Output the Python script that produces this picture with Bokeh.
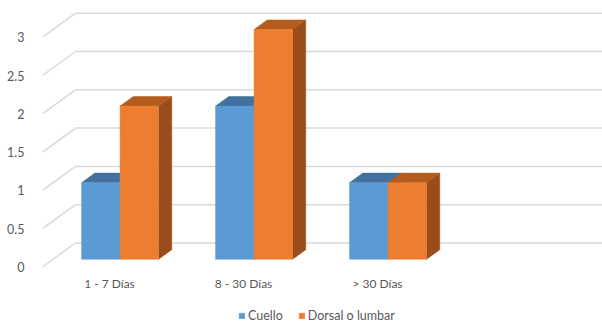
from bokeh.plotting import figure
from bokeh.models import Range1d, FixedTicker, Legend, LegendItem
from bokeh.core.properties import value
from bokeh.embed import file_html
from bokeh.resources import INLINE

# ---- data ----
categories = ["1 - 7 Días", "8 - 30 Días", "> 30 Días"]
cuello = [1, 2, 1]
dorsal = [2, 3, 1]
series_names = ["Cuello", "Dorsal o lumbar"]
y_ticks = [0, 0.5, 1, 1.5, 2, 2.5, 3]
y_tick_labels = ["0", "0.5", "1", "1.5", "2", "2.5", "3"]

# ---- layout / style constants ----
W, H = 602, 323
LEFT = 42
PX_X = 134.0      # px per category
PX_Y = 76.6       # px per value unit
ZERO_PX = 266.5   # screen y of front zero
DEPTH_DX = 33.0 / PX_X   # full depth offset (category units)
DEPTH_DY = 24.0 / PX_Y   # full depth offset (value units)
F0, F1 = 0.32, 0.72      # bar front/back depth fractions
BAR_W = 38.5 / PX_X

BLUE = ["#5B9BD5", "#41719C", "#3A6690"]
ORANGE = ["#ED7D31", "#B35C1E", "#9A4D1B"]
GRID = "#D9D9D9"
TXT = "#595959"
FONT = "Lato"

p = figure(width=W, height=H, output_backend="svg", toolbar_location=None,
           x_axis_type=None,
           x_range=Range1d(0, (W - LEFT) / PX_X),
           y_range=Range1d(-(H - ZERO_PX) / PX_Y, ZERO_PX / PX_Y),
           min_border_left=LEFT, min_border_right=0, min_border_top=0,
           min_border_bottom=0)
p.outline_line_color = None
p.xgrid.visible = False
p.ygrid.visible = False

# walls: left-wall diagonals and back-wall horizontal lines
x_end = (W - LEFT) / PX_X
p.segment(x0=[0] * len(y_ticks), y0=y_ticks,
          x1=[DEPTH_DX] * len(y_ticks), y1=[t + DEPTH_DY for t in y_ticks],
          line_color=GRID, line_width=1.5)
p.segment(x0=[DEPTH_DX] * len(y_ticks), y0=[t + DEPTH_DY for t in y_ticks],
          x1=[x_end] * len(y_ticks), y1=[t + DEPTH_DY for t in y_ticks],
          line_color=GRID, line_width=1.5)

# bars
ox0, oy0 = F0 * DEPTH_DX, F0 * DEPTH_DY
ox1, oy1 = F1 * DEPTH_DX, F1 * DEPTH_DY
front_renderers = []
for s_idx, (vals, cols) in enumerate([(cuello, BLUE), (dorsal, ORANGE)]):
    lefts, rights, tops, bottoms = [], [], [], []
    top_xs, top_ys, side_xs, side_ys = [], [], [], []
    for i, v in enumerate(vals):
        c = i + 0.5
        l = c - BAR_W + s_idx * BAR_W + ox0
        r = l + BAR_W
        b = oy0
        t = v + oy0
        lefts.append(l); rights.append(r); tops.append(t); bottoms.append(b)
        dx, dy = ox1 - ox0, oy1 - oy0
        top_xs.append([l, r, r + dx, l + dx])
        top_ys.append([t, t, t + dy, t + dy])
        side_xs.append([r, r + dx, r + dx, r])
        side_ys.append([b, b + dy, t + dy, t])
    p.patches(side_xs, side_ys, fill_color=cols[2], line_color=cols[2], line_width=0.5)
    p.patches(top_xs, top_ys, fill_color=cols[1], line_color=cols[1], line_width=0.5)
    fr = p.quad(left=lefts, right=rights, top=tops, bottom=bottoms,
                fill_color=cols[0], line_color=cols[0], line_width=0.5)
    front_renderers.append(fr)

# category labels
p.text(x=[i + 0.5 for i in range(len(categories))],
       y=[-16.5 / PX_Y] * len(categories), text=categories,
       text_font=value(FONT), text_font_size="12px", text_color=TXT,
       text_align="center", text_baseline="middle")

# y axis
ax = p.yaxis[0]
ax.ticker = FixedTicker(ticks=y_ticks)
ax.major_label_overrides = {t: lab for t, lab in zip(y_ticks, y_tick_labels)}
ax.axis_line_color = None
ax.major_tick_line_color = None
ax.minor_tick_line_color = None
ax.major_label_standoff = 12
ax.major_label_text_color = TXT
ax.major_label_text_font = FONT
ax.major_label_text_font_size = "12.5px"

legend = Legend(items=[LegendItem(label=series_names[k], renderers=[front_renderers[k]])
                       for k in range(2)],
                orientation="horizontal", location=(196, 0),
                glyph_width=7, glyph_height=7, label_standoff=3, spacing=15,
                padding=0, margin=0, label_height=11,
                label_text_font=FONT, label_text_font_size="12.5px",
                label_text_color=TXT, border_line_color=None,
                background_fill_alpha=0)
p.add_layout(legend)

open("out.html", "w").write(file_html(p, INLINE))
